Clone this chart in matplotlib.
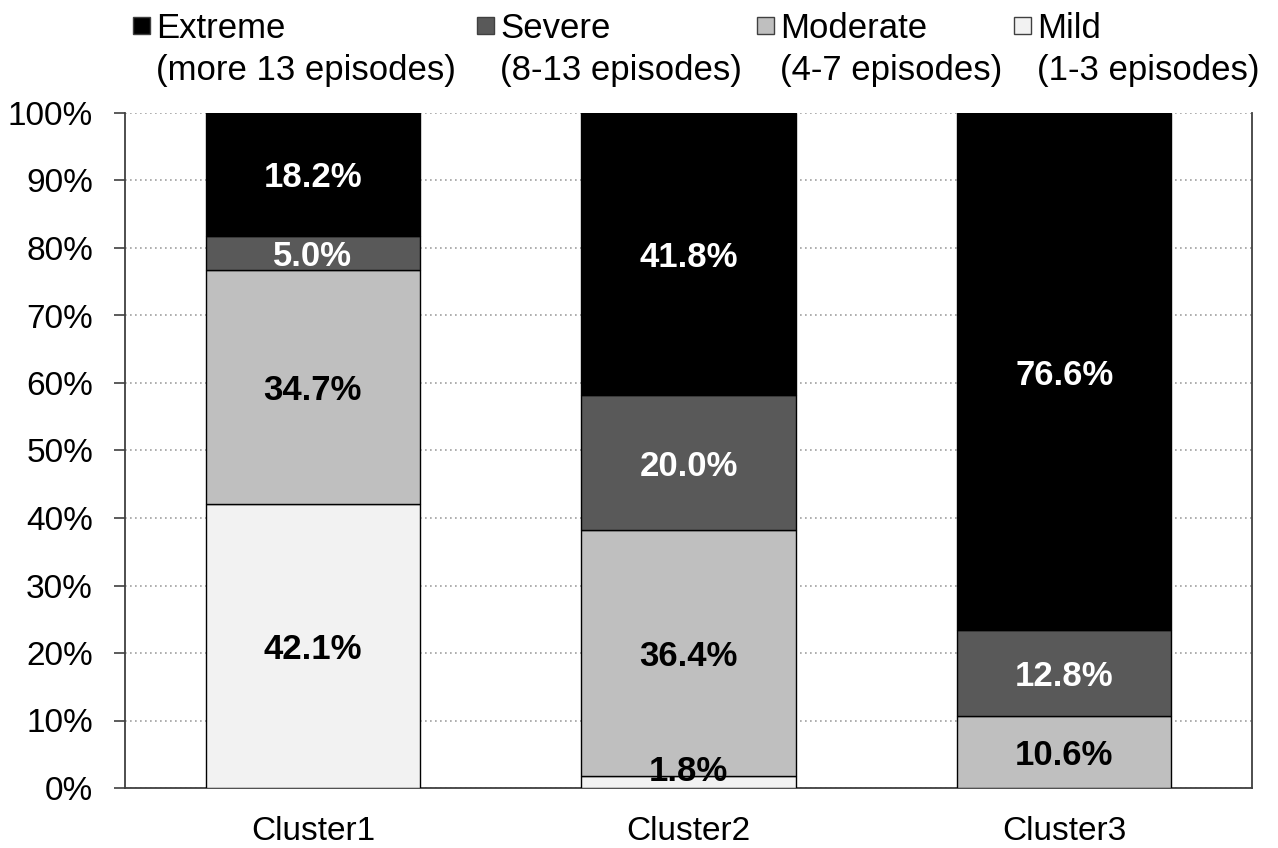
import matplotlib
matplotlib.use("Agg")
import matplotlib.pyplot as plt
from matplotlib.patches import Rectangle
import numpy as np

plt.rcParams['font.family'] = ['Liberation Sans', 'DejaVu Sans']

clusters = ["Cluster1", "Cluster2", "Cluster3"]
series = ["Mild", "Moderate", "Severe", "Extreme"]
mild = [42.1, 1.8, 0.0]
moderate = [34.7, 36.4, 10.6]
severe = [5.0, 20.0, 12.8]
extreme = [18.2, 41.8, 76.6]
colors = ["#f2f2f2", "#bfbfbf", "#595959", "#000000"]
label_colors = ["black", "black", "white", "white"]
legend_titles = ["Extreme", "Severe", "Moderate", "Mild"]
legend_subs = ["(more 13 episodes)", "(8-13 episodes)", "(4-7 episodes)", "(1-3 episodes)"]
legend_colors = ["#000000", "#595959", "#bfbfbf", "#f2f2f2"]

W, H = 1278, 848
fig = plt.figure(figsize=(W / 100, H / 100), dpi=100)
ax = fig.add_axes([125 / W, (H - 788) / H, (1252 - 125) / W, (788 - 113) / H])

x = np.arange(len(clusters))
data = [mild, moderate, severe, extreme]
bottom = np.zeros(len(clusters))
for vals, col, lc in zip(data, colors, label_colors):
    vals = np.array(vals)
    for i in range(len(clusters)):
        if vals[i] <= 0:
            continue
        ax.bar(x[i], vals[i], bottom=bottom[i], width=0.57, color=col,
               edgecolor="black", linewidth=1.0, zorder=3)
        yc = max(bottom[i] + vals[i] / 2, 3.0)
        ax.text(x[i], yc, f"{vals[i]:.1f}%", ha="center", va="center_baseline",
                color=lc, fontsize=25, fontweight="bold", zorder=4)
    bottom += vals

ax.set_xlim(-0.5, 2.5)
ax.set_ylim(0, 100)
ax.set_yticks(np.arange(0, 101, 10))
ax.set_yticklabels([f"{v}%" for v in range(0, 101, 10)], fontsize=24)
ax.set_xticks(x)
ax.set_xticklabels(clusters, fontsize=24)
ax.tick_params(axis="x", length=0, pad=20)
ax.tick_params(axis="y", length=8, width=1.2, color="#404040", pad=15)
ax.yaxis.grid(True, linestyle=(0, (1, 2)), color="#a0a0a0", linewidth=1.2, zorder=0)
ax.set_axisbelow(True)
for s in ["left", "right", "bottom"]:
    ax.spines[s].set_color("#404040")
    ax.spines[s].set_linewidth(1.3)
ax.spines["top"].set_visible(False)

# legend (manual, marker aligned with first line)
lx = [133, 477, 757, 1014]
for xi, t, sub, c in zip(lx, legend_titles, legend_subs, legend_colors):
    fig.patches.append(Rectangle((xi / W, (H - 34) / H), 17 / W, 17 / H,
                                 transform=fig.transFigure, facecolor=c,
                                 edgecolor="#404040", linewidth=1.0))
    fig.text((xi + 23) / W, (H - 25) / H, t, fontsize=25, va="center_baseline", ha="left")
    fig.text((xi + 23) / W, (H - 67) / H, sub, fontsize=25, va="center_baseline", ha="left")

fig.savefig("out.png", dpi=100)
